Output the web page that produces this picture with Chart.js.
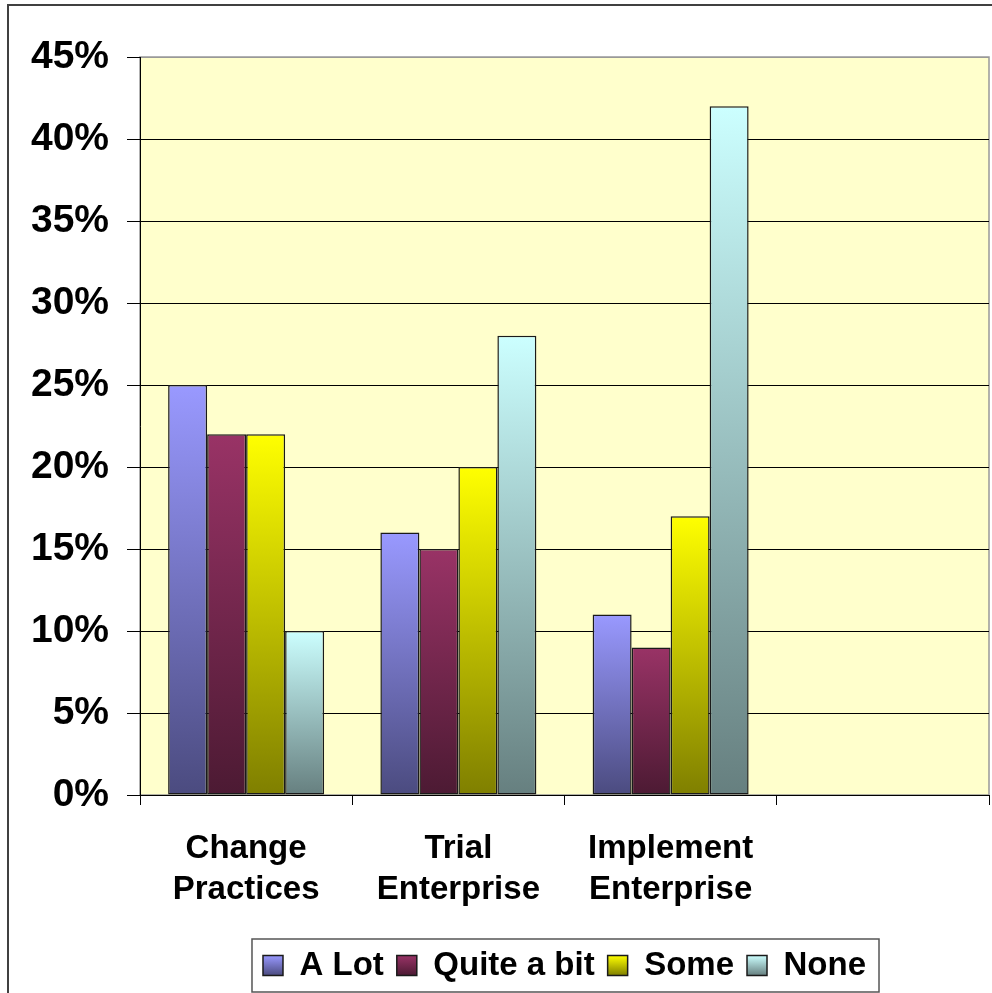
<!DOCTYPE html>
<html lang="en">
<head>
    <meta charset="UTF-8">
    <title>Survey responses</title>
    <script src="https://cdn.jsdelivr.net/npm/chart.js"></script>
    <style>
        body { margin: 0; background: #fff; }
        #wrap { width: 992px; height: 993px; position: relative; }
    </style>
</head>
<body>
    <div id="wrap"><canvas id="myChart"></canvas></div>

    <script>
        // data (percent)
        const categories = [['Change', 'Practices'], ['Trial', 'Enterprise'], ['Implement', 'Enterprise'], ''];
        const seriesNames = ['A Lot', 'Quite a bit', 'Some', 'None'];
        const aLot = [25, 16, 11, null];
        const quiteABit = [22, 15, 9, null];
        const some = [22, 20, 17, null];
        const none = [10, 28, 42, null];
        const yTicks = [0, 5, 10, 15, 20, 25, 30, 35, 40, 45];

        // top / bottom shades of each bar (light on top, dark at the base)
        const shades = [
            ['#9999FF', '#4B4B7F'],
            ['#993366', '#4C1A33'],
            ['#FFFF00', '#7F7F00'],
            ['#CCFFFF', '#667F7F']
        ];

        const legendFont = 33, legendBox = 20, legendPad = 13;

        function barShade(i) {
            return (c) => {
                const chart = c.chart;
                if (c.type !== 'data' || !chart.chartArea || c.raw == null) return shades[i][0];
                const y = chart.scales.y;
                const g = chart.ctx.createLinearGradient(0, y.getPixelForValue(c.raw), 0, y.getPixelForValue(0));
                g.addColorStop(0, shades[i][0]);
                g.addColorStop(1, shades[i][1]);
                return g;
            };
        }

        const values = [aLot, quiteABit, some, none];
        const datasets = seriesNames.map((name, i) => ({
            label: name,
            data: values[i],
            backgroundColor: barShade(i),
            borderColor: '#1a1a1a',
            borderWidth: 1.5,
            borderSkipped: false,
            categoryPercentage: 0.735,
            barPercentage: 1
        }));

        const plotBack = {
            id: 'plotBack',
            afterLayout(chart) {
                // centre legend under the plot area, like the original
                const lg = chart.legend, a = chart.chartArea;
                lg.left = a.left;
                lg.right = a.right;
                lg.width = a.right - a.left;
            },
            beforeDraw(chart) {
                const {ctx, chartArea: a} = chart;
                ctx.save();
                ctx.fillStyle = '#FFFFCC';
                ctx.fillRect(a.left, a.top, a.right - a.left, a.bottom - a.top);
                ctx.strokeStyle = '#999';
                ctx.lineWidth = 1.5;
                ctx.strokeRect(a.left, a.top, a.right - a.left, a.bottom - a.top);
                ctx.restore();
            },
            afterDraw(chart) {
                const ctx = chart.ctx;
                ctx.save();
                // outer frame (cut off at right and bottom)
                ctx.strokeStyle = '#404040';
                ctx.lineWidth = 2;
                ctx.beginPath();
                ctx.moveTo(8, 993);
                ctx.lineTo(8, 5);
                ctx.lineTo(992, 5);
                ctx.stroke();
                // legend box
                const hb = chart.legend.legendHitBoxes;
                if (hb && hb.length) {
                    const l = Math.min(...hb.map(h => h.left)) - 11;
                    const r = Math.max(...hb.map(h => h.left + h.width)) + 13;
                    ctx.strokeStyle = '#555';
                    ctx.lineWidth = 1.5;
                    ctx.strokeRect(l, chart.legend.top + 3, r - l, chart.legend.bottom - chart.legend.top - 3);
                }
                ctx.restore();
            }
        };

        new Chart(document.getElementById('myChart'), {
            type: 'bar',
            data: { labels: categories, datasets: datasets },
            options: {
                responsive: true,
                maintainAspectRatio: false,
                animation: false,
                layout: { padding: { left: 0, top: 57, right: 3, bottom: 1 } },
                plugins: {
                    tooltip: { enabled: false },
                    legend: {
                        position: 'bottom',
                        labels: {
                            color: '#000',
                            boxWidth: legendBox,
                            boxHeight: legendBox,
                            padding: legendPad,
                            font: { family: 'Liberation Sans, Arial', size: legendFont, weight: 'bold' },
                            generateLabels(chart) {
                                const lg = chart.legend;
                                const boxTop = (lg && lg.top ? lg.top : 0) + legendPad + (legendFont - legendBox) / 2;
                                return chart.data.datasets.map((ds, i) => {
                                    const g = chart.ctx.createLinearGradient(0, boxTop, 0, boxTop + legendBox);
                                    g.addColorStop(0, shades[i][0]);
                                    g.addColorStop(1, shades[i][1]);
                                    return {
                                        text: ds.label,
                                        fillStyle: g,
                                        strokeStyle: '#1a1a1a',
                                        lineWidth: 1.5,
                                        fontColor: '#000',
                                        hidden: false,
                                        datasetIndex: i
                                    };
                                });
                            }
                        }
                    }
                },
                scales: {
                    x: {
                        afterFit(s) { s.height = 141; },
                        grid: { offset: true, drawOnChartArea: false, tickLength: 10, tickColor: '#000', lineWidth: 1 },
                        border: { color: '#000', width: 1 },
                        ticks: {
                            color: '#000',
                            padding: 23,
                            maxRotation: 0,
                            font: { family: 'Liberation Sans, Arial', size: 33, weight: 'bold', lineHeight: 1.26 }
                        }
                    },
                    y: {
                        min: 0,
                        max: 45,
                        afterFit(s) { s.width = 140; },
                        afterBuildTicks(s) { s.ticks = yTicks.map(v => ({ value: v })); },
                        grid: {
                            color: c => (c.tick && c.tick.value === 45) ? '#999' : '#000',
                            tickColor: '#000',
                            tickLength: 13,
                            lineWidth: 1
                        },
                        border: { color: '#000', width: 1 },
                        ticks: {
                            color: '#000',
                            padding: 18,
                            font: { family: 'Liberation Sans, Arial', size: 39, weight: 'bold' },
                            callback: v => v + '%'
                        }
                    }
                }
            },
            plugins: [plotBack]
        });
    </script>
</body>
</html>
